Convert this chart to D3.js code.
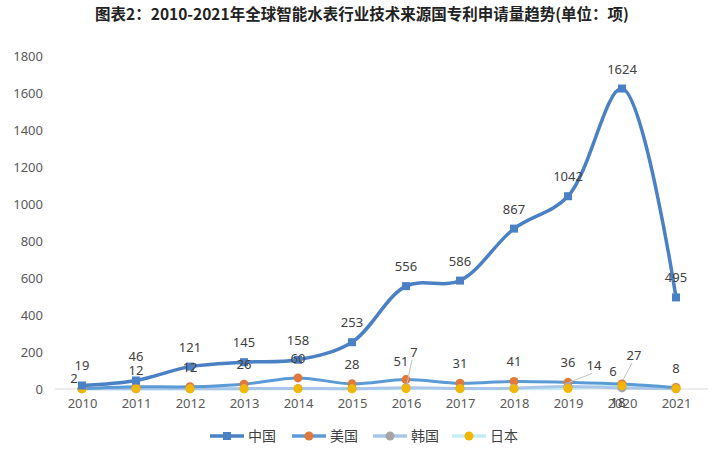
<!DOCTYPE html>
<html><head><meta charset="utf-8">
<script src="https://cdn.jsdelivr.net/npm/d3@7/dist/d3.min.js"></script>
<style>body{margin:0;background:#fff;}svg{display:block;font-family:"Noto Sans CJK SC","Noto Sans",sans-serif;}</style>
</head><body><svg id="c" width="720" height="449"></svg>
<script>
const title = "图表2：2010-2021年全球智能水表行业技术来源国专利申请量趋势(单位：项)";
const years = ["2010","2011","2012","2013","2014","2015","2016","2017","2018","2019","2020","2021"];
const seriesNames = ["中国","美国","韩国","日本"];
const china = [19,46,121,145,158,253,556,586,867,1042,1624,495];
const usa   = [2,12,12,26,60,28,51,31,41,36,27,8];
const korea = [1,1,1,2,3,2,7,3,4,14,6,1];
const japan = [1,2,1,1,2,1,3,2,2,3,18,2];
const yTicks = [0,200,400,600,800,1000,1200,1400,1600,1800];
// which points show a data label (1 = show)
const chinaLabels = [1,1,1,1,1,1,1,1,1,1,1,1];
const usaLabels   = [1,1,1,1,1,1,1,1,1,1,1,1];
const koreaLabels = [0,0,0,0,0,0,1,0,0,1,1,0];
const japanLabels = [0,0,0,0,0,0,0,0,0,0,1,0];

const svg = d3.select("#c");
const W=720,H=449;
const m={l:55,r:17};
const x = d3.scalePoint().domain(years).range([m.l,W-m.r]).padding(0.5);
const y = d3.scaleLinear().domain([0,1800]).range([389,56]);
const numFont = "'Noto Sans','DejaVu Sans',sans-serif";

svg.append("text").attr("x",362).attr("y",20).attr("text-anchor","middle")
  .attr("font-size",15.5).attr("font-weight","bold").attr("fill","#222").text(title);

// y axis labels
const ya = svg.append("g").attr("transform",`translate(${m.l},0)`)
  .call(d3.axisLeft(y).tickValues(yTicks).tickFormat(d3.format("d")).tickSize(0).tickPadding(12));
ya.select(".domain").remove();
ya.selectAll("text").attr("font-size",13).attr("fill","#595959").attr("font-family",numFont);

// x axis
const xa = svg.append("g").attr("transform",`translate(0,${y(0)})`)
  .call(d3.axisBottom(x).tickSize(0).tickPadding(10));
xa.select(".domain").attr("stroke","#d9d9d9").attr("d",`M${m.l},0H${W-12}`);
xa.selectAll("text").attr("font-size",13).attr("fill","#595959").attr("font-family",numFont);

const series = [
  {name:seriesNames[3], vals:japan, lab:japanLabels, line:"#c5ecf3", mk:"#f2b705", shape:"circle", w:3},
  {name:seriesNames[2], vals:korea, lab:koreaLabels, line:"#a9c6e8", mk:"#a5a5a5", shape:"circle", w:3},
  {name:seriesNames[1], vals:usa, lab:usaLabels, line:"#5b9bd5", mk:"#e0793a", shape:"circle", w:3},
  {name:seriesNames[0], vals:china, lab:chinaLabels, line:"#4a80c4", mk:"#4a80c4", shape:"square", w:3.5},
];
const line = d3.line().x((d,i)=>x(years[i])).y(d=>y(d)).curve(d3.curveCatmullRom.alpha(0.5));

series.forEach(s=>{
  svg.append("path").attr("d",line(s.vals)).attr("fill","none").attr("stroke",s.line).attr("stroke-width",s.w).attr("stroke-linecap","round");
});
const order = [series[2],series[1],series[0],series[3]];
order.forEach(s=>{
  s.vals.forEach((v,i)=>{
    if(s.shape==="square"){
      svg.append("rect").attr("x",x(years[i])-4).attr("y",y(v)-4).attr("width",8).attr("height",8).attr("fill",s.mk);
    } else {
      svg.append("circle").attr("cx",x(years[i])).attr("cy",y(v)).attr("r",4.5).attr("fill",s.mk);
    }
  });
});

function addLabel(cx,cy,txt){
  svg.append("text").attr("x",cx).attr("y",cy).attr("text-anchor","middle")
    .attr("font-size",13).attr("fill","#404040").attr("font-family",numFont).text(txt);
}
function leader(x1,y1,x2,y2){
  svg.append("line").attr("x1",x1).attr("y1",y1).attr("x2",x2).attr("y2",y2).attr("stroke","#bfbfbf").attr("stroke-width",1);
}
// label offsets [dx, dy(baseline rel. to point), leader?]
const labOff = {
  "中国":{1:[0,-19]},
  "美国":{0:[-8,-6],1:[0,-12],6:[-5,-14],10:[12,-24,1]},
  "韩国":{6:[8,-31,1],9:[26,-16,1],10:[-9,-12]},
  "日本":{10:[-4,21]}
};
series.forEach(s=>{
  s.vals.forEach((v,i)=>{
    if(!s.lab[i]) return;
    const px=x(years[i]), py=y(v);
    const o = labOff[s.name][i];
    let dx=0, dy=-15;
    if(o){dx=o[0];dy=o[1];
      if(o[2]) leader(px+1,py-4,px+dx-2,py+dy+3);
    }
    addLabel(px+dx, py+dy, v);
  });
});

// legend
const lg = svg.append("g");
const legItems = [
  {name:seriesNames[0], line:"#4a80c4", mk:"#4a80c4", shape:"square", x:210},
  {name:seriesNames[1], line:"#5b9bd5", mk:"#e0793a", shape:"circle", x:292},
  {name:seriesNames[2], line:"#a9c6e8", mk:"#a5a5a5", shape:"circle", x:373},
  {name:seriesNames[3], line:"#c5ecf3", mk:"#f2b705", shape:"circle", x:452},
];
legItems.forEach(it=>{
  const ly=436;
  lg.append("line").attr("x1",it.x).attr("x2",it.x+34).attr("y1",ly).attr("y2",ly).attr("stroke",it.line).attr("stroke-width",3.5);
  if(it.shape==="square") lg.append("rect").attr("x",it.x+13).attr("y",ly-4).attr("width",8).attr("height",8).attr("fill",it.mk);
  else lg.append("circle").attr("cx",it.x+17).attr("cy",ly).attr("r",4.5).attr("fill",it.mk);
  lg.append("text").attr("x",it.x+38).attr("y",ly+5).attr("font-size",14).attr("fill","#404040").text(it.name);
});
</script></body></html>
